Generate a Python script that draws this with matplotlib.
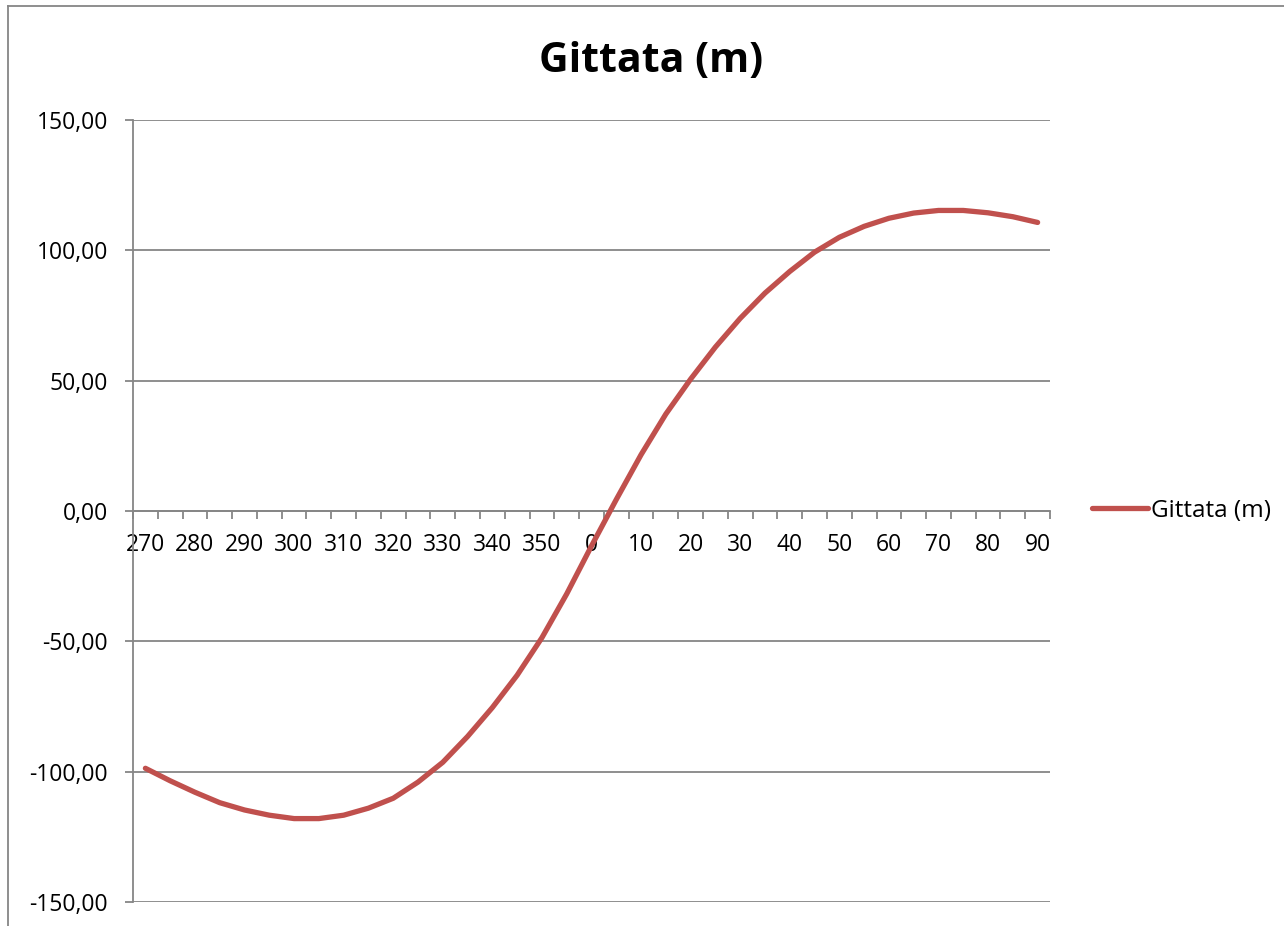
import matplotlib
matplotlib.use('Agg')
import matplotlib.pyplot as plt
from matplotlib.lines import Line2D
from matplotlib.ticker import FuncFormatter
import numpy as np

# angoli (categorie) e gittata
angoli = [270, 275, 280, 285, 290, 295, 300, 305, 310, 315, 320, 325, 330,
          335, 340, 345, 350, 355, 0, 5, 10, 15, 20, 25, 30, 35, 40, 45,
          50, 55, 60, 65, 70, 75, 80, 85, 90]
gittata = [-98.7, -103.5, -107.9, -111.9, -114.7, -116.7, -118.0, -118.0,
           -116.7, -114.0, -110.2, -104.0, -96.4, -86.5, -75.4, -63.0,
           -48.6, -31.8, -13.4, 4.4, 21.6, 37.2, 50.6, 62.9, 73.9, 83.6,
           91.9, 99.3, 105.0, 109.2, 112.3, 114.3, 115.3, 115.3, 114.4,
           112.9, 110.7]
y_ticks = [-150, -100, -50, 0, 50, 100, 150]

plt.rcParams['font.family'] = ['Open Sans', 'DejaVu Sans']
RED = '#C0504D'
GRID = '#868686'

fig = plt.figure(figsize=(12.84, 9.26), dpi=100)
ax = fig.add_axes([133 / 1284, 1 - 902 / 926, (1050 - 133) / 1284, (902 - 120) / 926])

x = np.arange(len(angoli))
ax.plot(x, gittata, color=RED, lw=3.8, solid_capstyle='round',
        solid_joinstyle='round', label='Gittata (m)', zorder=3)

ax.set_xlim(-0.5, len(angoli) - 0.5)
ax.set_ylim(-150, 150)
ax.set_yticks(y_ticks)
ax.yaxis.set_major_formatter(FuncFormatter(lambda v, p: f"{v:.2f}".replace('.', ',')))
ax.grid(axis='y', color=GRID, lw=1.3)
ax.set_axisbelow(True)

# asse categorie: etichette ogni due, tacche tra le categorie
ax.set_xticks(x[::2])
ax.set_xticklabels([str(a) for a in angoli[::2]])
ax.set_xticks(np.arange(len(angoli) + 1) - 0.5, minor=True)
ax.tick_params(axis='x', which='major', length=0, pad=16, labelsize=16.5)
ax.tick_params(axis='x', which='minor', length=6, width=1.3, color=GRID, direction='out')
ax.tick_params(axis='y', length=6, width=1.3, color=GRID, pad=12, labelsize=16.5)

for s in ['top', 'right']:
    ax.spines[s].set_visible(False)
ax.spines['bottom'].set_position(('data', 0))
ax.spines['bottom'].set_color(GRID)
ax.spines['bottom'].set_linewidth(1.3)
ax.spines['left'].set_color(GRID)
ax.spines['left'].set_linewidth(1.3)

fig.text(651 / 1284, 1 - 61 / 926, 'Gittata (m)', fontsize=29.5, fontweight='bold',
         ha='center', va='center')

ax.legend(loc='center left', bbox_to_anchor=(1.035, 0.5), frameon=False,
          fontsize=17.5, handlelength=2.3, handletextpad=0.15, borderaxespad=0)

# bordo dell'area grafico
fig.add_artist(Line2D([8 / 1284, 8 / 1284], [0, 1 - 6 / 926], color=GRID, lw=1.3))
fig.add_artist(Line2D([8 / 1284, 1], [1 - 6 / 926, 1 - 6 / 926], color=GRID, lw=1.3))

fig.savefig('out.png', dpi=100)
